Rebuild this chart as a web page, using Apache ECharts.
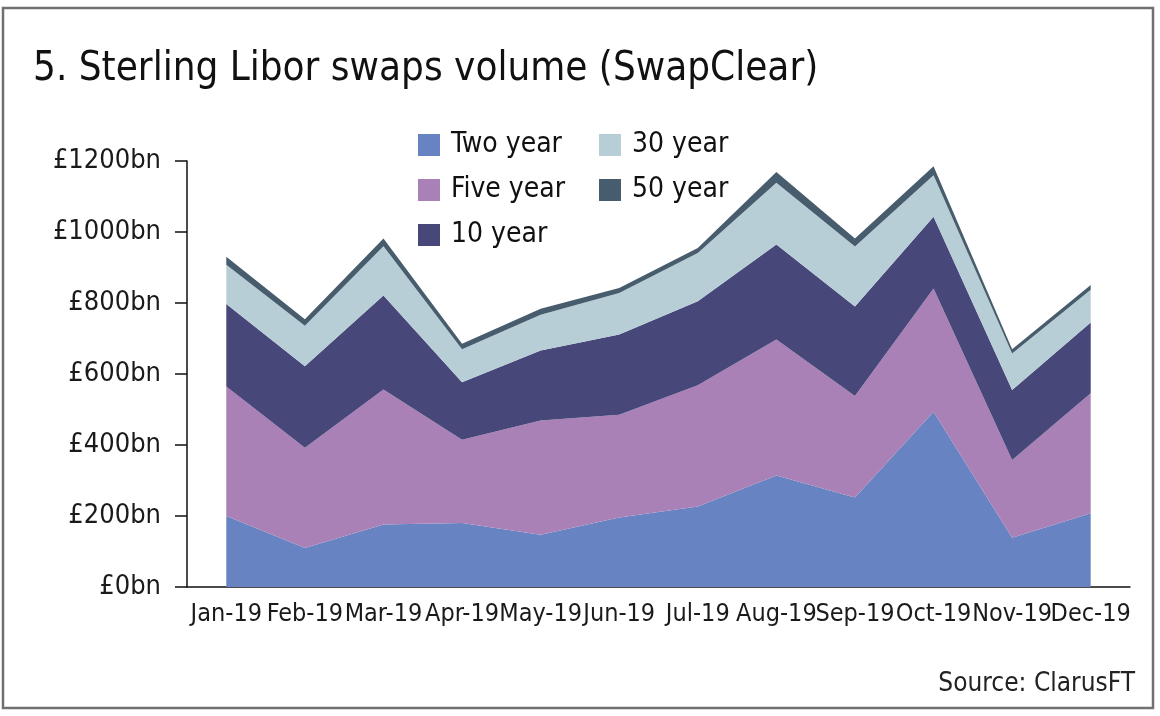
<!DOCTYPE html>
<html>
<head>
<meta charset="utf-8">
<script src="https://cdn.jsdelivr.net/npm/echarts@6/dist/echarts.min.js"></script>
<style>
html,body{margin:0;padding:0;background:#fff;}
#c{width:1160px;height:716px;}
</style>
</head>
<body>
<div id="c"></div>
<script>
const months = ['Jan-19','Feb-19','Mar-19','Apr-19','May-19','Jun-19','Jul-19','Aug-19','Sep-19','Oct-19','Nov-19','Dec-19'];
const twoYear   = [200, 110, 176, 180, 147, 196, 227, 314, 252, 494, 139, 208];
const fiveYear  = [365, 282, 380, 235, 322, 289, 341, 383, 286, 347, 219, 338];
const tenYear   = [232, 230, 265, 162, 197, 226, 237, 268, 252, 202, 197, 199];
const thirtyYear= [111, 114, 139,  93, 101, 117, 136, 174, 169, 117, 103,  92];
const fiftyYear = [ 22,  18,  22,  15,  17,  14,  14,  30,  23,  25,  12,  14];
const yTicks = [0, 200, 400, 600, 800, 1000, 1200];

const FONT = "'Liberation Sans Narrow','DejaVu Sans Condensed','Roboto Condensed',sans-serif";
const colors = ['#6883c1','#a981b7','#48477a','#b8ced7','#475c6c'];

function areaSeries(name, data, color){
  return {
    name: name, type: 'line', stack: 'total', data: data,
    symbol: 'none', smooth: false,
    lineStyle: {width: 0, color: color},
    areaStyle: {color: color, opacity: 1},
    itemStyle: {color: color},
    emphasis: {disabled: true}
  };
}

const chart = echarts.init(document.getElementById('c'), null, {renderer: 'canvas'});
chart.setOption({
  backgroundColor: '#fff',
  animation: false,
  title: {
    text: '5. Sterling Libor swaps volume (SwapClear)',
    left: 28, top: 45,
    textStyle: {fontFamily: FONT, fontSize: 40, fontWeight: 'normal', color: '#111'}
  },
  graphic: [
    {type: 'rect', shape: {x: 3, y: 8, width: 1150, height: 700},
     style: {fill: 'none', stroke: '#707070', lineWidth: 2.5}, silent: true},
    {type: 'text', right: 25, top: 671,
     style: {text: 'Source: ClarusFT', font: '26px ' + FONT, fill: '#222'}}
  ],
  legend: [
    {
      data: ['Two year','Five year','10 year'],
      orient: 'vertical', left: 413, top: 125,
      itemWidth: 22, itemHeight: 22, itemGap: 15,
      icon: 'rect',
      textStyle: {fontFamily: FONT, fontSize: 28, color: '#111', lineHeight: 30, padding: [0,0,0,6]}
    },
    {
      data: ['30 year','50 year'],
      orient: 'vertical', left: 594, top: 125,
      itemWidth: 22, itemHeight: 22, itemGap: 15,
      icon: 'rect',
      textStyle: {fontFamily: FONT, fontSize: 28, color: '#111', lineHeight: 30, padding: [0,0,0,6]}
    }
  ],
  grid: {left: 187, right: 30, top: 161, bottom: 129, containLabel: false},
  xAxis: {
    type: 'category', data: months, boundaryGap: true,
    axisLine: {lineStyle: {color: '#111', width: 1.5}},
    axisTick: {show: false},
    axisLabel: {fontFamily: FONT, fontSize: 25, color: '#1a1a1a', margin: 15, interval: 0}
  },
  yAxis: {
    type: 'value', min: 0, max: 1200, interval: 200,
    splitLine: {show: false},
    axisLine: {show: true, lineStyle: {color: '#111', width: 1.5}},
    axisTick: {show: true, length: 12, lineStyle: {color: '#111', width: 1.5}},
    axisLabel: {fontFamily: FONT, fontSize: 27, color: '#1a1a1a', margin: 26,
      formatter: function(v){ return yTicks.indexOf(v) >= 0 ? '£' + v + 'bn' : ''; }}
  },
  series: [
    areaSeries('Two year', twoYear, colors[0]),
    areaSeries('Five year', fiveYear, colors[1]),
    areaSeries('10 year', tenYear, colors[2]),
    areaSeries('30 year', thirtyYear, colors[3]),
    areaSeries('50 year', fiftyYear, colors[4])
  ]
});
</script>
</body>
</html>
